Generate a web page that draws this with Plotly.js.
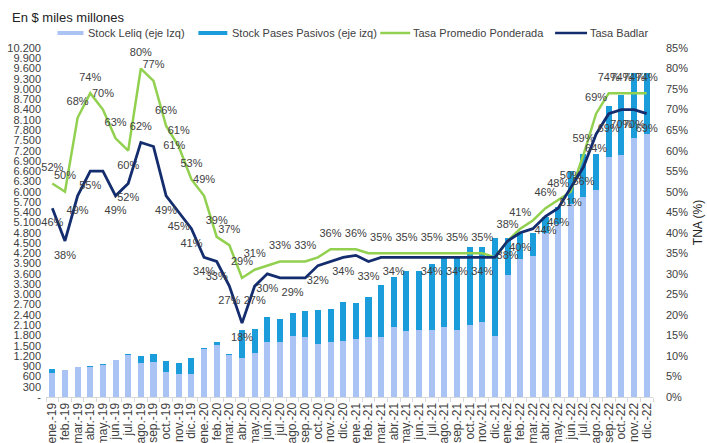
<!DOCTYPE html>
<html>
<head>
<meta charset="utf-8">
<script src="https://cdn.plot.ly/plotly-3.0.1.min.js"></script>
<style>html,body{margin:0;padding:0;background:#fff}#chart{width:707px;height:443px}</style>
</head>
<body>
<div id="chart"></div>
<script>
// Stock Leliq / Pases Pasivos (bars, left axis) vs tasas (lines, right axis)
const months = ["ene.-19","feb.-19","mar.-19","abr.-19","may.-19","jun.-19","jul.-19","ago.-19","sep.-19","oct.-19","nov.-19","dic.-19",
  "ene.-20","feb.-20","mar.-20","abr.-20","may.-20","jun.-20","jul.-20","ago.-20","sep.-20","oct.-20","nov.-20","dic.-20",
  "ene.-21","feb.-21","mar.-21","abr.-21","may.-21","jun.-21","jul.-21","ago.-21","sep.-21","oct.-21","nov.-21","dic.-21",
  "ene.-22","feb.-22","mar.-22","abr.-22","may.-22","jun.-22","jul.-22","ago.-22","sep.-22","oct.-22","nov.-22","dic.-22"];

// $ miles millones
const leliq = [700,780,870,890,950,1070,1230,1000,1020,730,670,680,
  1400,1530,1220,1140,1290,1610,1610,1780,1750,1550,1620,1650,
  1690,1740,1760,2050,1930,1960,1960,2040,1960,2100,2200,1780,
  3570,4040,4120,4800,5050,5650,5850,6050,7000,7060,7560,7700];
const pases = [120,20,15,15,15,15,30,200,230,320,320,470,
  30,80,30,820,700,730,670,680,760,990,950,1140,
  1070,1190,1510,1470,1750,1720,1920,2010,2140,2290,2170,2880,
  1090,760,680,450,500,950,1250,1050,1500,1760,1900,1760];

// TNA %
const tpp = [52,50,68,74,70,63,60,80,77,66,61,53,
  49,39,37,29,31,32,33,33,33,34,36,36,
  36,35,35,35,35,35,35,35,35,35,35,34,
  38,41,43,46,48,50,59,69,74,74,74,74];
const badlar = [46,38,49,55,55,49,52,62,61,49,45,41,
  34,33,27,18,27,30,29,29,29,32,33,34,
  34.5,33,34,34,34,34,34,34,34,34,34,34,
  38,40,41,44,46,51,56,64,69,70,70,69];

// which points carry a data label
const tppShow = [1,1,1,1,1,1,1,1,1,1,1,1, 1,1,1,1,1,0,1,0,1,0,1,0, 1,0,1,0,1,0,1,0,1,0,1,0, 1,1,0,1,1,1,1,1,1,1,1,1];
const badShow = [1,1,1,1,0,1,1,1,1,1,1,1, 1,1,1,1,1,1,0,1,0,1,0,1, 0,1,0,1,0,0,1,0,1,0,1,0, 1,1,0,1,1,1,1,1,1,1,1,1];

const leftTicks = ["-","300","600","900","1.200","1.500","1.800","2.100","2.400","2.700","3.000","3.300","3.600","3.900","4.200","4.500","4.800",
  "5.100","5.400","5.700","6.000","6.300","6.600","6.900","7.200","7.500","7.800","8.100","8.400","8.700","9.000","9.300","9.600","9.900","10.200"];

const C = {leliq:"#a9c4f4", pases:"#1b9ddb", tpp:"#92d050", bad:"#142d6e", txt:"#404040"};
const F = "Liberation Sans, Arial, sans-serif";

const tppPos = tpp.map((v,i)=> i===6 ? "bottom center" : "top center");
const badPos = badlar.map((v,i)=> i===7 ? "top center" : i===8 ? "middle right" : "bottom center");
const lbl = (arr,show)=>arr.map((v,i)=>show[i]?Math.round(v)+"%":"");

// invisible markers push the labels away from the line, as in the source
const ghost = {size:14,opacity:0};
const traces = [
  {type:"bar",x:months,y:leliq,name:"Stock Leliq (eje Izq)",marker:{color:C.leliq},hoverinfo:"skip"},
  {type:"bar",x:months,y:pases,name:"Stock Pases Pasivos (eje izq)",marker:{color:C.pases},hoverinfo:"skip"},
  {type:"scatter",x:months,y:tpp,yaxis:"y2",mode:"lines+markers+text",line:{color:C.tpp,width:2.5},marker:ghost,
   text:lbl(tpp,tppShow),textposition:tppPos,textfont:{family:F,size:11,color:C.txt},cliponaxis:false,hoverinfo:"skip"},
  {type:"scatter",x:months,y:badlar,yaxis:"y2",mode:"lines+markers+text",line:{color:C.bad,width:2.8},marker:ghost,
   text:lbl(badlar,badShow),textposition:badPos,textfont:{family:F,size:11,color:C.txt},cliponaxis:false,hoverinfo:"skip"}
];

// pixel -> paper helpers for the hand-built legend
const L=45.5, R=653, T=48, B=397;
const xp = px=>(px-L)/(R-L), yp = py=>(B-py)/(B-T);

const legItems = [
  {kind:"rect",x0:57,x1:83,tx:86,color:C.leliq,label:"Stock Leliq (eje Izq)"},
  {kind:"rect",x0:198,x1:227,tx:230,color:C.pases,label:"Stock Pases Pasivos (eje izq)"},
  {kind:"line",x0:380,x1:410,tx:411,color:C.tpp,label:"Tasa Promedio Ponderada"},
  {kind:"line",x0:555,x1:587,tx:588,color:C.bad,label:"Tasa Badlar"}
];
const shapes = legItems.map(o=>o.kind==="rect"
  ? {type:"rect",xref:"paper",yref:"paper",x0:xp(o.x0),x1:xp(o.x1),y0:yp(35),y1:yp(31),fillcolor:o.color,line:{width:0}}
  : {type:"line",xref:"paper",yref:"paper",x0:xp(o.x0),x1:xp(o.x1),y0:yp(33),y1:yp(33),line:{color:o.color,width:2.5}});
const annotations = legItems.map(o=>({xref:"paper",yref:"paper",x:xp(o.tx),y:yp(33),xanchor:"left",yanchor:"middle",
  text:o.label,showarrow:false,font:{family:F,size:11,color:C.txt}}));
annotations.push({xref:"paper",yref:"paper",x:xp(9),y:yp(18),xanchor:"left",yanchor:"middle",
  text:"En $ miles millones",showarrow:false,font:{family:F,size:13,color:"#222"}});

const layout = {
  width:707,height:443,margin:{l:L,r:707-R,t:T,b:443-B},
  paper_bgcolor:"#fff",plot_bgcolor:"#fff",
  barmode:"stack",bargap:0.52,
  font:{family:F,size:11,color:C.txt},
  xaxis:{type:"category",range:[-0.5,months.length-0.5],tickmode:"linear",tick0:0,dtick:1,tickangle:-90,showgrid:false,
    showline:true,linecolor:"#d9d9d9",ticks:"outside",tickson:"boundaries",ticklen:4,tickcolor:"#d9d9d9",
    tickfont:{size:12,color:C.txt},automargin:false},
  yaxis:{range:[0,10200],tickvals:leftTicks.map((t,i)=>i*300),ticktext:leftTicks,showgrid:false,zeroline:false,
    tickfont:{size:11,color:C.txt},ticklabelstandoff:4,automargin:false},
  yaxis2:{overlaying:"y",side:"right",range:[0,85],dtick:5,ticksuffix:"%",showgrid:false,zeroline:false,
    tickfont:{size:11,color:C.txt},ticklabelstandoff:12,automargin:false,
    title:{text:"TNA (%)",font:{size:12,color:"#222"},standoff:6}},
  shapes,annotations,showlegend:false
};

Plotly.newPlot("chart",traces,layout,{displayModeBar:false,staticPlot:true});
</script>
</body>
</html>
